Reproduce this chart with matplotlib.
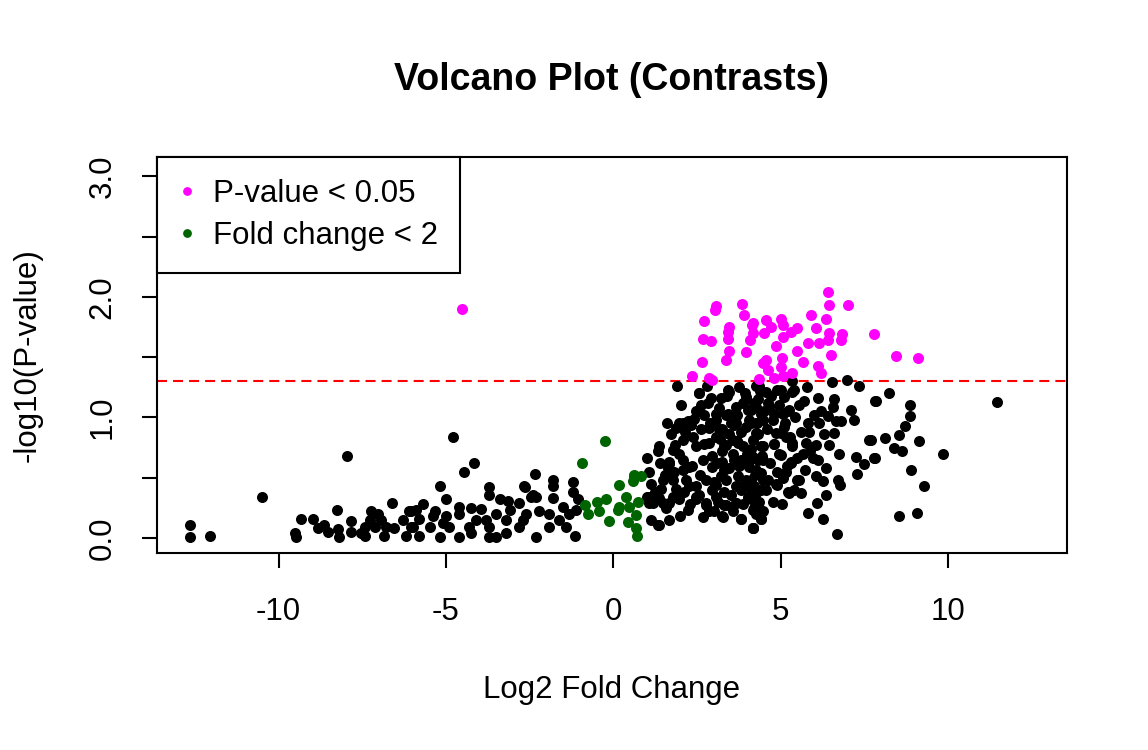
import math
import matplotlib
matplotlib.use('Agg')
import matplotlib.pyplot as plt
from matplotlib.lines import Line2D

# ---------------------------------------------------------------------------
# Data
# ---------------------------------------------------------------------------
# significant by p-value (magenta)
sig_x = [-4.52, 3.08, 3.04, 3.84, 3.91, 2.72, 3.46, 3.41, 4.14, 4.18, 4.08, 2.67,
         2.92, 3.42, 3.46, 3.36, 3.96, 2.65, 2.35, 2.87, 2.96,
         6.42, 6.45, 7.01, 5.90, 6.35, 4.56, 5.01, 5.06, 4.71, 4.16, 4.51, 5.06,
         5.30, 5.50, 6.05, 6.45, 6.40, 6.15, 6.83, 6.80, 7.79, 5.80, 4.86, 5.50,
         5.65, 6.50, 4.56, 4.46, 5.04, 5.01, 4.61, 6.10, 6.20, 5.35, 5.06, 4.81,
         4.36, 8.44, 9.10]
sig_y = [1.90, 1.92, 1.89, 1.94, 1.85, 1.80, 1.75, 1.71, 1.77, 1.70, 1.64, 1.65,
         1.63, 1.65, 1.55, 1.48, 1.54, 1.46, 1.34, 1.33, 1.31,
         2.04, 1.93, 1.93, 1.85, 1.82, 1.81, 1.82, 1.77, 1.75, 1.78, 1.70, 1.67,
         1.71, 1.74, 1.74, 1.70, 1.64, 1.62, 1.69, 1.64, 1.69, 1.62, 1.59, 1.55,
         1.46, 1.52, 1.48, 1.45, 1.49, 1.42, 1.39, 1.43, 1.37, 1.37, 1.34, 1.33,
         1.32, 1.51, 1.49]

# small fold change (dark green)
fc_x = [-0.25, -0.93, 0.63, 0.58, 0.16, -0.84, -0.77, -0.49, -0.22, -0.42, 0.38,
        0.18, 0.13, 0.48, -0.12, 0.43, 0.68, 0.68, 0.70, 0.73, 0.83, 0.63]
fc_y = [0.80, 0.62, 0.51, 0.47, 0.44, 0.27, 0.20, 0.30, 0.32, 0.22, 0.34,
        0.26, 0.23, 0.26, 0.14, 0.13, 0.19, 0.08, 0.02, 0.30, 0.51, 0.52]

# everything else (black)
ns_x = [
    # left tail
    -7.95, -10.49, -12.63, -12.63, -12.06, -9.52, -9.47, -9.32, -8.96, -8.25,
    -6.61, -8.83, -8.63, -8.53, -8.23, -8.18, -7.83, -7.83, -7.53, -7.23,
    -7.03, -7.28, -7.13, -7.43, -6.93, -6.78, -6.54, -6.29, -6.09, -6.04,
    -6.19, -6.84, -7.43,
    # -6 .. -1
    -4.79, -4.16, -4.45, -5.17, -4.99, -5.69, -6.04, -5.79, -5.34, -5.39,
    -4.99, -4.60, -4.60, -4.25, -3.95, -3.70, -3.70, -3.40, -3.15, -2.81,
    -2.63, -2.34, -2.46, -2.31, -1.79, -1.79, -1.81, -1.21, -1.19, -1.07,
    -1.11, -1.16, -2.31, -3.20, -3.70, -3.50, -4.25, -4.60, -5.19, -5.79,
    -5.49, -4.90, -4.30, -3.80, -3.70, -3.20, -2.81, -2.71, -2.21, -1.91,
    -1.91, -1.61, -1.51, -1.41, -1.31, -4.10, -3.50, -3.10, -2.61, -5.10,
    -5.99, -5.89, -2.66, -2.41,
    # dense core, 1 .. 4.3
    1.90, 2.55, 2.79, 2.92, 3.21, 3.43, 3.76, 3.96, 4.26, 2.52,
    2.72, 3.07, 3.07, 3.36, 3.66, 3.86, 4.11, 1.97, 1.87, 2.32,
    2.62, 2.87, 3.26, 3.66, 3.96, 4.26, 1.35, 1.32, 1.85, 1.77,
    2.07, 2.37, 2.47, 2.87, 3.07, 3.36, 3.56, 3.86, 4.16, 1.02,
    1.67, 1.62, 2.07, 2.27, 2.67, 2.96, 3.26, 3.46, 3.81, 4.06,
    1.07, 1.12, 1.47, 1.42, 1.77, 1.87, 2.17, 2.47, 2.77, 3.07,
    3.36, 3.66, 3.96, 4.21, 1.02, 1.17, 1.37, 1.67, 1.97, 2.22,
    2.47, 2.77, 3.07, 3.36, 3.66, 4.06, 4.16, 1.12, 1.32, 1.67,
    2.67, 3.01, 3.28, 3.81, 4.16, 4.26,
    1.37, 2.07, 2.47, 2.57, 2.22, 1.67, 2.07, 1.77, 1.47, 1.07,
    1.05, 2.47, 2.77, 2.96, 2.27,
    3.46, 3.96, 4.31, 4.61, 5.01, 5.40, 3.41, 4.01, 4.41, 4.81,
    5.21, 3.16, 3.61, 4.11, 5.01, 5.35, 3.31, 3.71, 4.01, 4.41,
    3.11, 3.61, 4.31, 5.01, 5.30, 3.21, 3.71, 4.11, 4.41, 4.90,
    5.21, 5.50, 3.31, 3.81, 4.01, 4.41, 3.31, 3.66, 4.21, 3.26,
    3.81, 4.41, 4.16,
    # extra fill in the core
    1.55, 1.72, 1.95, 2.12, 2.35, 2.42, 2.60, 2.70, 2.82, 2.95,
    3.02, 3.15, 3.18, 3.30, 3.38, 3.50, 3.52, 3.58, 3.70, 3.75,
    3.82, 3.90, 3.92, 4.02, 4.05, 4.12, 4.20, 4.24, 4.32, 4.35,
    4.38, 4.45, 4.50, 4.55, 4.60, 4.68, 4.72, 4.80, 4.88, 4.95,
    5.12, 5.18, 5.28, 5.42, 5.48, 5.62, 5.70, 5.88, 6.00, 6.30,
    1.25, 1.40, 1.58, 1.82, 1.98, 2.15, 2.30, 2.55, 2.62, 2.85,
    2.90, 3.12, 3.25, 3.45, 3.58, 3.68, 3.88, 3.98, 4.10, 4.28,
    4.48, 4.62, 4.78, 5.05, 5.15, 5.40, 5.72, 6.35, 2.02, 1.60,
    # 4.3 .. 8
    4.36, 4.56, 4.90, 5.10, 5.35, 5.35, 5.78, 6.53, 6.98, 7.34,
    6.10, 6.60, 6.55, 5.55, 5.25, 5.06, 6.20, 6.40, 7.09, 7.82,
    4.66, 4.26, 4.46, 4.76, 5.10, 5.80, 6.15, 6.65, 6.80, 7.19,
    4.86, 5.15, 5.85, 6.60, 4.26, 4.46, 4.81, 5.35, 5.75, 6.05,
    6.45, 6.75, 7.64, 7.79, 7.24, 7.49, 7.29, 4.16, 4.46, 4.96,
    5.30, 5.65, 5.95, 6.10, 6.35, 4.26, 4.46, 4.86, 5.06, 5.25,
    5.55, 5.60, 6.05, 6.25, 6.70, 6.77, 4.26, 4.11, 4.21, 4.41,
    4.16, 6.08, 5.82, 6.27, 6.68,
    # right tail
    7.84, 8.24, 8.85, 8.85, 8.70, 8.54, 7.69, 8.11, 8.37, 8.62,
    9.13, 7.81, 9.85, 8.89, 9.28, 8.53, 9.07, 11.45,
]
ns_y = [
    0.68, 0.34, 0.11, 0.01, 0.02, 0.04, 0.01, 0.16, 0.16, 0.23,
    0.29, 0.08, 0.11, 0.05, 0.07, 0.01, 0.14, 0.05, 0.04, 0.22,
    0.20, 0.15, 0.09, 0.09, 0.15, 0.09, 0.08, 0.15, 0.22, 0.09,
    0.02, 0.02, 0.02,
    0.84, 0.62, 0.55, 0.43, 0.32, 0.28, 0.22, 0.16, 0.22, 0.18,
    0.18, 0.26, 0.20, 0.25, 0.24, 0.42, 0.36, 0.32, 0.31, 0.29,
    0.42, 0.53, 0.34, 0.34, 0.48, 0.43, 0.33, 0.46, 0.38, 0.32,
    0.23, 0.02, 0.01, 0.04, 0.01, 0.01, 0.04, 0.01, 0.01, 0.02,
    0.09, 0.09, 0.09, 0.15, 0.09, 0.15, 0.09, 0.15, 0.22, 0.20,
    0.09, 0.15, 0.26, 0.09, 0.20, 0.15, 0.20, 0.23, 0.20, 0.12,
    0.09, 0.23, 0.43, 0.36,
    1.26, 1.20, 1.26, 1.16, 1.16, 1.23, 1.25, 1.17, 1.26, 1.05,
    1.02, 1.03, 0.98, 1.02, 1.09, 1.12, 1.06, 0.95, 0.91, 0.94,
    0.90, 0.91, 0.90, 0.95, 0.92, 0.95, 0.76, 0.72, 0.77, 0.73,
    0.81, 0.84, 0.76, 0.79, 0.84, 0.77, 0.81, 0.76, 0.81, 0.66,
    0.63, 0.58, 0.65, 0.59, 0.65, 0.59, 0.63, 0.58, 0.65, 0.59,
    0.55, 0.45, 0.48, 0.41, 0.48, 0.41, 0.48, 0.43, 0.48, 0.44,
    0.48, 0.43, 0.48, 0.43, 0.34, 0.29, 0.33, 0.29, 0.32, 0.23,
    0.32, 0.29, 0.34, 0.27, 0.29, 0.33, 0.23, 0.15, 0.11, 0.15,
    0.17, 0.22, 0.17, 0.16, 0.08, 0.20,
    0.11, 0.95, 1.05, 1.20, 0.97, 0.61, 0.56, 0.34, 0.29, 0.29,
    0.34, 0.34, 0.27, 0.40, 0.43,
    1.21, 1.16, 1.15, 1.12, 1.23, 1.23, 1.03, 1.06, 1.03, 1.03,
    1.05, 0.90, 0.94, 0.95, 0.87, 0.76, 0.76, 0.79, 0.73, 0.76,
    0.62, 0.65, 0.65, 0.69, 0.62, 0.51, 0.51, 0.48, 0.54, 0.44,
    0.38, 0.48, 0.38, 0.40, 0.34, 0.40, 0.27, 0.29, 0.25, 0.18,
    0.16, 0.16, 0.08,
    0.52, 0.86, 0.70, 0.38, 0.60, 0.99, 0.52, 0.78, 1.12, 0.68,
    0.46, 1.08, 0.82, 0.56, 1.18, 0.95, 0.36, 0.70, 1.02, 0.60,
    0.88, 0.45, 1.20, 0.62, 0.98, 0.74, 1.12, 0.52, 0.86, 0.30,
    1.22, 0.68, 1.05, 0.40, 0.90, 0.62, 1.18, 0.78, 0.55, 1.10,
    0.95, 0.60, 0.84, 1.00, 0.66, 0.88, 1.14, 0.72, 1.02, 0.86,
    0.38, 0.62, 0.25, 0.55, 0.18, 0.88, 0.28, 0.36, 1.10, 0.22,
    0.95, 0.30, 0.72, 0.86, 0.22, 0.80, 0.28, 0.70, 0.40, 0.95,
    0.22, 0.48, 0.30, 0.28, 0.55, 0.40, 0.56, 0.36, 1.10, 0.95,
    1.26, 1.21, 1.23, 1.17, 1.30, 1.21, 1.25, 1.29, 1.31, 1.26,
    1.16, 1.15, 1.09, 1.10, 1.06, 1.03, 1.05, 1.01, 1.06, 1.14,
    1.09, 1.09, 0.98, 0.98, 0.92, 0.95, 0.95, 0.97, 0.97, 0.98,
    0.87, 0.84, 0.88, 0.87, 0.87, 0.76, 0.78, 0.79, 0.79, 0.77,
    0.77, 0.70, 0.81, 0.66, 0.67, 0.61, 0.53, 0.67, 0.65, 0.70,
    0.63, 0.70, 0.66, 0.65, 0.58, 0.56, 0.48, 0.45, 0.50, 0.37,
    0.48, 0.37, 0.51, 0.47, 0.48, 0.44, 0.37, 0.32, 0.23, 0.16,
    0.08, 0.29, 0.21, 0.16, 0.03,
    1.14, 1.20, 1.10, 1.01, 0.93, 0.85, 0.81, 0.83, 0.75, 0.72,
    0.80, 0.66, 0.70, 0.56, 0.43, 0.18, 0.21, 1.13,
]

P_CUTOFF = 0.05
X_TICKS = [-10, -5, 0, 5, 10]
Y_TICKS = [0.0, 0.5, 1.0, 1.5, 2.0, 2.5, 3.0]
Y_TICKLABELS = ['0.0', '', '1.0', '', '2.0', '', '3.0']

# ---------------------------------------------------------------------------
# Figure
# ---------------------------------------------------------------------------
plt.rcParams['font.family'] = ['Liberation Sans', 'DejaVu Sans']

W, H = 1148, 750
FS = 15
fig = plt.figure(figsize=(W / 150, H / 150), dpi=150)
ax = fig.add_axes([157 / W, 1 - 553 / H, (1067 - 157) / W, (553 - 157) / H])

MS = 28
ax.scatter(ns_x, ns_y, s=MS, c='black', linewidths=0, zorder=3)
ax.scatter(sig_x, sig_y, s=MS, c='#FF00FF', linewidths=0, zorder=3)
ax.scatter(fc_x, fc_y, s=MS, c='#006400', linewidths=0, zorder=3)

ax.axhline(-math.log10(P_CUTOFF), color='#FF0000', lw=1.0,
           dashes=(4.8, 2.9), zorder=2)

ax.set_xlim(-13.63, 13.55)
ax.set_ylim(-0.125, 3.16)
ax.set_xticks(X_TICKS)
ax.set_xticklabels([str(t) for t in X_TICKS])
ax.set_yticks(Y_TICKS)
ax.set_yticklabels(Y_TICKLABELS, rotation=90, va='center')
ax.tick_params(axis='both', length=7, width=1.0, labelsize=FS, color='black')
ax.tick_params(axis='x', pad=14)
ax.tick_params(axis='y', pad=12)
for s in ax.spines.values():
    s.set_linewidth(1.0)

fig.text(612 / W, 1 - 80 / H, 'Volcano Plot (Contrasts)', ha='center',
         va='center', fontsize=18, fontweight='bold')
fig.text(612 / W, 1 - 690 / H, 'Log2 Fold Change', ha='center', va='center',
         fontsize=FS)
fig.text(28 / W, 1 - 355 / H, '-log10(P-value)', ha='center', va='center',
         fontsize=FS, rotation=90)

handles = [
    Line2D([], [], ls='none', marker='o', ms=4.2, mfc='#FF00FF', mec='none',
           label='P-value < 0.05'),
    Line2D([], [], ls='none', marker='o', ms=4.2, mfc='#006400', mec='none',
           label='Fold change < 2'),
]
leg = ax.legend(handles=handles, loc='upper left', borderaxespad=0,
                fontsize=FS, frameon=True, fancybox=False, framealpha=1,
                edgecolor='black', handlelength=0.5, handletextpad=0.6,
                borderpad=0.7, labelspacing=0.38)
leg.get_frame().set_linewidth(1.0)

fig.savefig('out.png', dpi=150, facecolor='white')
